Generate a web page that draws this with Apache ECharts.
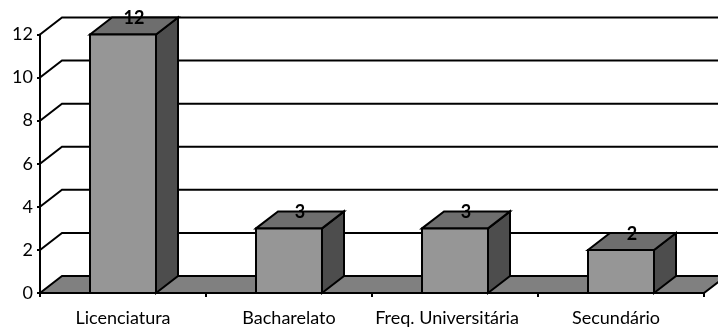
<!DOCTYPE html>
<html>
<head>
<meta charset="utf-8">
<style>html,body{margin:0;padding:0;background:#fff}#chart{width:718px;height:328px}</style>
<script src="https://cdn.jsdelivr.net/npm/echarts@6/dist/echarts.min.js"></script>
</head>
<body>
<div id="chart"></div>
<script>
// Habilitações: counts per qualification level
const categories = ['Licenciatura', 'Bacharelato', 'Freq. Universitária', 'Secundário'];
const values = [12, 3, 3, 2];
const yTicks = [0, 2, 4, 6, 8, 10, 12];

// Oblique projection used for the 3D look
const DEPTH_X = 22;
const DEPTH_Y = -17;
const BAR_WIDTH = 66;
const EDGE = { stroke: '#000', lineWidth: 2 };
const FRONT = '#969696', TOP = '#6e6e6e', SIDE = '#4d4d4d', FLOOR = '#808080';
// Right padding that nudges the longer category labels to the left
const LABEL_PADDING = [0, 0, 16, 10];

const chart = echarts.init(document.getElementById('chart'), null, { renderer: 'canvas' });

// Draws the floor and the receding gridlines on the back wall
function renderWall(params, api) {
  const v = api.value(0);
  const box = params.coordSys;
  const y = api.coord([categories[0], v])[1];
  const left = box.x, right = box.x + box.width;
  const children = [];
  if (v === 0) {
    children.push({
      type: 'polygon',
      shape: { points: [[left, y], [left + DEPTH_X, y + DEPTH_Y], [right + DEPTH_X, y + DEPTH_Y], [right, y]] },
      style: { fill: FLOOR, ...EDGE }
    });
  } else {
    children.push({
      type: 'polyline',
      shape: { points: [[left, y], [left + DEPTH_X, y + DEPTH_Y], [right + DEPTH_X, y + DEPTH_Y]] },
      style: { fill: null, ...EDGE }
    });
  }
  return { type: 'group', children };
}

// Draws one bar as front, side and top faces with its value label
function renderBar(params, api) {
  const v = api.value(1);
  const base = api.coord([api.value(0), 0]);
  const top = api.coord([api.value(0), v]);
  const x0 = base[0] - BAR_WIDTH / 2, x1 = base[0] + BAR_WIDTH / 2;
  const yb = base[1], yt = top[1];
  return {
    type: 'group',
    children: [
      { type: 'polygon', shape: { points: [[x1, yb], [x1 + DEPTH_X, yb + DEPTH_Y], [x1 + DEPTH_X, yt + DEPTH_Y], [x1, yt]] }, style: { fill: SIDE, ...EDGE } },
      { type: 'polygon', shape: { points: [[x0, yt], [x0 + DEPTH_X, yt + DEPTH_Y], [x1 + DEPTH_X, yt + DEPTH_Y], [x1, yt]] }, style: { fill: TOP, ...EDGE } },
      { type: 'polygon', shape: { points: [[x0, yb], [x0, yt], [x1, yt], [x1, yb]] }, style: { fill: FRONT, ...EDGE } },
      {
        type: 'text', z2: 10,
        style: {
          text: String(v), x: base[0] + DEPTH_X / 2, y: yt + DEPTH_Y + 1,
          align: 'center', verticalAlign: 'middle',
          font: 'bold 18px Lato', fill: '#000'
        }
      }
    ]
  };
}

chart.setOption({
  animation: false,
  tooltip: { show: false },
  grid: { left: 40, right: 14, top: 34.5, bottom: 35, containLabel: false },
  xAxis: {
    type: 'category',
    data: categories.map((c, i) => ({ value: c, textStyle: { padding: [0, LABEL_PADDING[i], 0, 0] } })),
    axisTick: { show: true, alignWithLabel: false, length: 4, lineStyle: { color: '#000', width: 2 } },
    axisLine: { lineStyle: { color: '#000', width: 2 } },
    axisLabel: { color: '#000', fontFamily: 'Lato', fontSize: 18, margin: 16, interval: 0 },
    splitLine: { show: false },
    z: 6
  },
  yAxis: {
    type: 'value',
    min: 0, max: 12, interval: 2,
    axisTick: { show: true, length: 3, lineStyle: { color: '#000', width: 2 } },
    axisLine: { show: true, lineStyle: { color: '#000', width: 2 } },
    axisLabel: { color: '#000', fontFamily: 'Lato', fontSize: 18, margin: 7 },
    splitLine: { show: false },
    z: 6
  },
  series: [
    { type: 'custom', z: 2, clip: false, silent: true, coordinateSystem: 'cartesian2d',
      renderItem: renderWall, data: yTicks.map(v => [v]), encode: { y: 0 } },
    { type: 'custom', z: 3, clip: false, silent: true, coordinateSystem: 'cartesian2d',
      renderItem: renderBar, data: categories.map((c, i) => [c, values[i]]), encode: { x: 0, y: 1 } }
  ]
});
</script>
</body>
</html>
